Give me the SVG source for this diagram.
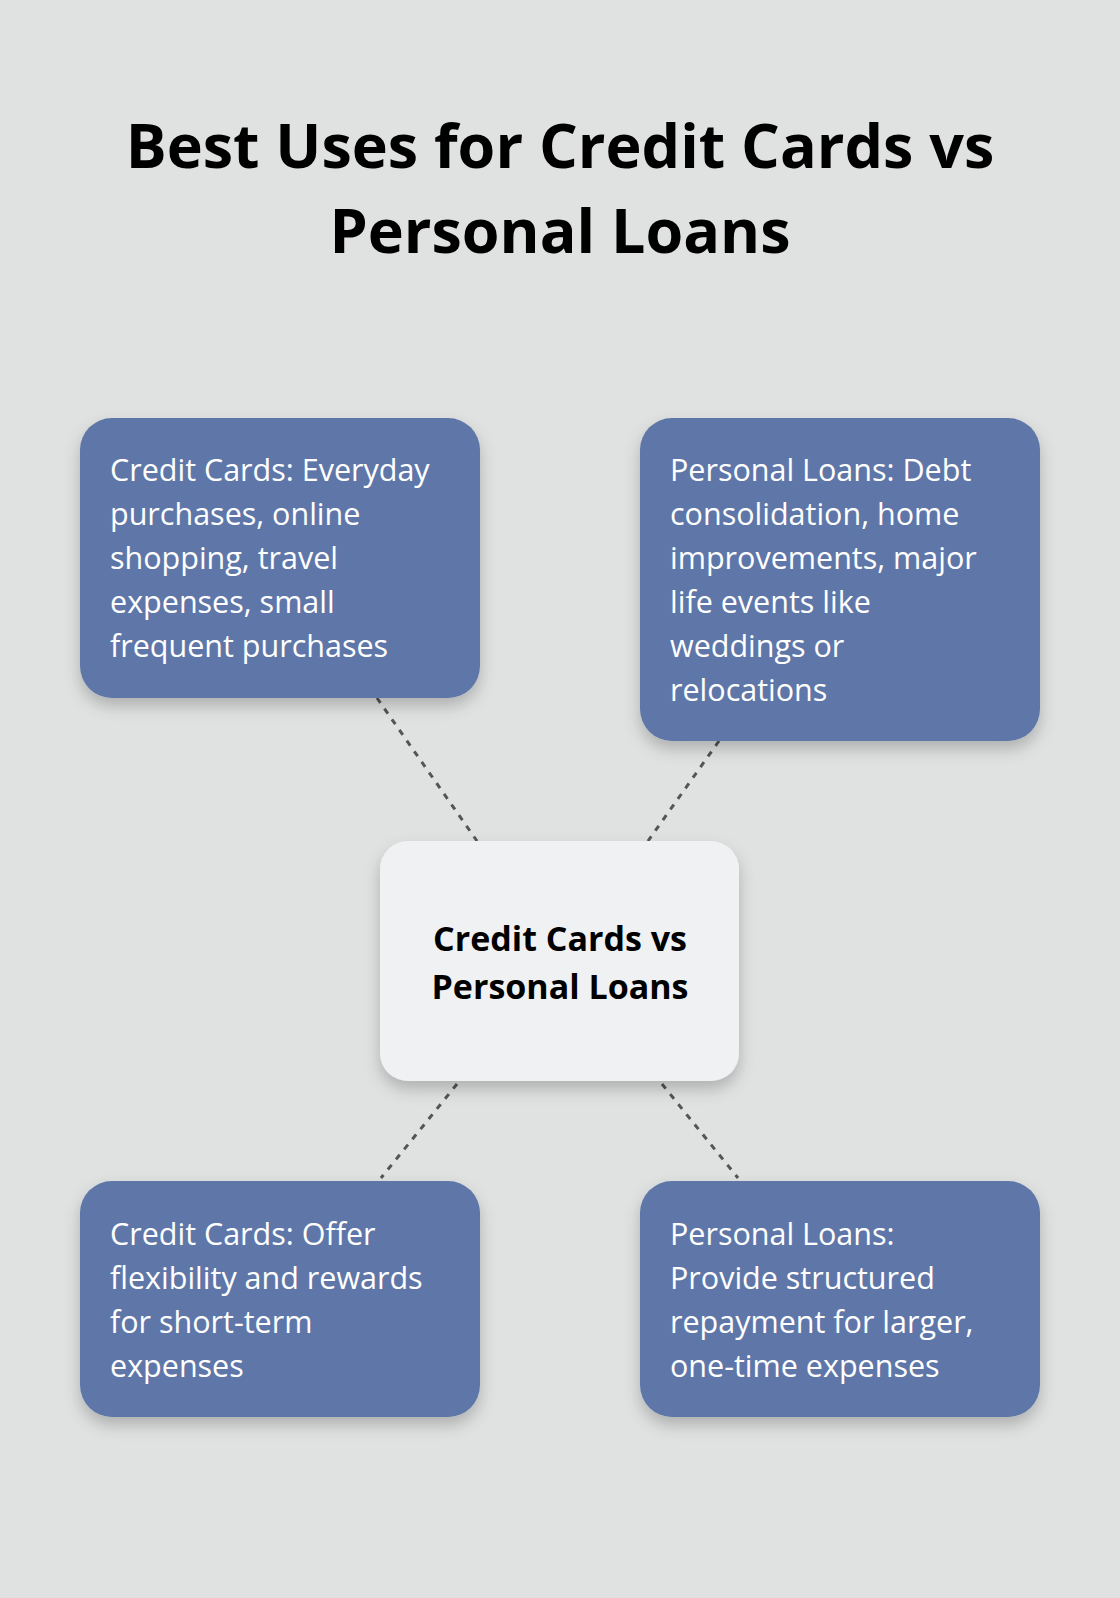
<svg xmlns="http://www.w3.org/2000/svg" width="1120" height="1598" viewBox="0 0 1120 1598">
<style>
.t{font-family:"Open Sans","Noto Sans",sans-serif;font-size:30.5px;fill:#ffffff}
.box{fill:#5e77a8}
.c{stroke:#555;stroke-width:3;stroke-dasharray:6 7;fill:none}
</style>
<defs><filter id="sh" x="-20%" y="-20%" width="140%" height="150%"><feDropShadow dx="0" dy="8" stdDeviation="8" flood-color="#000" flood-opacity="0.22"/></filter></defs>
<rect width="1120" height="1598" fill="#e0e2e1"/>
<text x="560" y="168" text-anchor="middle" font-family="'Open Sans','Noto Sans',sans-serif" font-weight="bold" font-size="61" fill="#000">Best Uses for Credit Cards vs</text>
<text x="560" y="253" text-anchor="middle" font-family="'Open Sans','Noto Sans',sans-serif" font-weight="bold" font-size="61" fill="#000">Personal Loans</text>
<g id="connectors">
<line class="c" x1="377" y1="698" x2="477" y2="841"/>
<line class="c" x1="719" y1="741" x2="648" y2="841"/>
<line class="c" x1="457" y1="1084" x2="381" y2="1178"/>
<line class="c" x1="662" y1="1084" x2="738" y2="1178"/>
</g>
<g id="center">
<rect x="380" y="841" width="359" height="240" rx="28" fill="#eff1f3" filter="url(#sh)"/>
<text x="560" y="951" text-anchor="middle" font-family="'Open Sans','Noto Sans',sans-serif" font-weight="bold" font-size="34" fill="#000">Credit Cards vs</text>
<text x="560" y="999" text-anchor="middle" font-family="'Open Sans','Noto Sans',sans-serif" font-weight="bold" font-size="34" fill="#000">Personal Loans</text>
</g>
<g id="n1">
<rect class="box" x="80" y="418" width="400" height="280" rx="32" filter="url(#sh)"/>
<text class="t"><tspan x="110" y="481">Credit Cards: Everyday</tspan><tspan x="110" y="525">purchases, online</tspan><tspan x="110" y="569">shopping, travel</tspan><tspan x="110" y="613">expenses, small</tspan><tspan x="110" y="657">frequent purchases</tspan></text>
</g>
<g id="n2">
<rect class="box" x="640" y="418" width="400" height="323" rx="32" filter="url(#sh)"/>
<text class="t"><tspan x="670" y="481">Personal Loans: Debt</tspan><tspan x="670" y="525">consolidation, home</tspan><tspan x="670" y="569">improvements, major</tspan><tspan x="670" y="613">life events like</tspan><tspan x="670" y="657">weddings or</tspan><tspan x="670" y="701">relocations</tspan></text>
</g>
<g id="n3">
<rect class="box" x="80" y="1181" width="400" height="236" rx="32" filter="url(#sh)"/>
<text class="t"><tspan x="110" y="1245">Credit Cards: Offer</tspan><tspan x="110" y="1289">flexibility and rewards</tspan><tspan x="110" y="1333">for short-term</tspan><tspan x="110" y="1377">expenses</tspan></text>
</g>
<g id="n4">
<rect class="box" x="640" y="1181" width="400" height="236" rx="32" filter="url(#sh)"/>
<text class="t"><tspan x="670" y="1245">Personal Loans:</tspan><tspan x="670" y="1289">Provide structured</tspan><tspan x="670" y="1333">repayment for larger,</tspan><tspan x="670" y="1377">one-time expenses</tspan></text>
</g>
</svg>
